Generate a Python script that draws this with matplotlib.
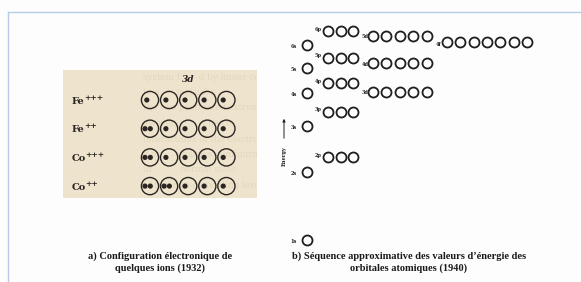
import matplotlib
matplotlib.use("Agg")
import matplotlib.pyplot as plt
from matplotlib.patches import Circle, Rectangle, FancyArrowPatch

# ---------------- data ----------------
# panel a) 3d occupancy of some ions (1932)
ion_symbols = ["Fe", "Fe", "Co", "Co"]
ion_charges = ["+++", "++", "+++", "++"]
occupancy = [
    [1, 1, 1, 1, 1],
    [2, 1, 1, 1, 1],
    [2, 1, 1, 1, 1],
    [2, 2, 1, 1, 1],
]
shell_label = "3d"

# panel b) approximate orbital energy sequence (1940), energies in arbitrary units
orbitals = ["1s", "2s", "2p", "3s", "3p", "4s", "3d", "4p", "5s", "4d", "5p", "6s", "4f", "5d", "6p"]
energies = [42, 110, 125, 156, 170, 189, 190, 199, 214, 219, 224, 237, 240, 246, 251]

caption_a = ["a) Configuration électronique de", "quelques ions (1932)"]
caption_b = ["b) Séquence approximative des valeurs d\u2019énergie des", "orbitales atomiques (1940)"]

# faint show-through text of the scanned page
bleed_lines = ["to a      mutual s", "the two postulated extremes.  I",
               "owever,         t be co", "interactions of the electrons are",
               "d or      charges configuratio", "ut          normal state", "of two non-coinciding levels."]

# ---------------- figure ----------------
W, H = 581, 282
fig = plt.figure(figsize=(W / 100, H / 100), dpi=100)
fig.patch.set_facecolor("#fdfdfd")
ax = fig.add_axes([0, 0, 1, 1])
ax.set_xlim(0, W)
ax.set_ylim(H, 0)
ax.axis("off")

# frame lines
ax.plot([8, W], [12, 12], color="#b5cbe8", lw=1.0)
ax.plot([8, 8], [12, H], color="#b5cbe8", lw=1.0)

# ---- panel a ----
ink = "#2b2622"
bleed = "#e2d7be"
ax.add_patch(Rectangle((63, 70), 194, 128, facecolor="#eee4cd", edgecolor="none", zorder=1))
ax.text(143, 78, "system f", fontsize=6.3, family="DejaVu Serif", color=bleed,
        va="center", ha="left", zorder=1.5)
ax.text(199, 78, "d by linear combin", fontsize=6.3, family="DejaVu Serif", color=bleed,
        va="center", ha="left", zorder=1.5)
for i, line in enumerate(bleed_lines):
    ax.text(143, 92.5 + i * 15.5, line, fontsize=6.3, family="DejaVu Serif", color=bleed,
            va="center", ha="left", zorder=1.5)
ax.add_patch(Rectangle((257, 60), 60, 150, facecolor="#fdfdfd", edgecolor="none", zorder=1.6))

ax.text(188, 80, shell_label, fontsize=6.5, family="DejaVu Serif", style="italic",
        weight="bold", color=ink, ha="center", va="center", zorder=3)
row_y0, row_dy = 100, 28.7
col_x0, col_dx = 150, 19.1
r = 8.6
for i, (sym, ch, occ) in enumerate(zip(ion_symbols, ion_charges, occupancy)):
    y = row_y0 + i * row_dy
    ax.text(72, y + 1, sym, fontsize=7, family="DejaVu Serif", weight="bold",
            color=ink, ha="left", va="center", zorder=3)
    ax.text(72 + (12 if sym == "Fe" else 13), y - 2.5, ch, fontsize=5.5, family="DejaVu Serif",
            weight="bold", color=ink, ha="left", va="center", zorder=3)
    for j, n in enumerate(occ):
        cx = col_x0 + j * col_dx
        ax.add_patch(Circle((cx, y), r, facecolor="none", edgecolor=ink, lw=1.0, zorder=3))
        if n == 1:
            xs = [cx - 3.2]
        else:
            xs = [cx - 5.0, cx + 0.3]
        for dx in xs:
            ax.add_patch(Circle((dx, y), 2.6, facecolor=ink, edgecolor="none", zorder=4))

# ---- panel b ----
col_x = {"s": 307, "p": 328, "d": 373, "f": 447}
spacing = {"s": 0, "p": 12.6, "d": 13.4, "f": 13.3}
nbox = {"s": 1, "p": 3, "d": 5, "f": 7}
label_dx = {"s": -13, "p": -9.5, "d": -8, "f": -8.5}
label_dy = {"s": 1.5, "p": -2.0, "d": 1.0, "f": 2.5}
base = 282
for name, e in zip(orbitals, energies):
    l = name[1]
    y = base - e
    xs = [col_x[l] + k * spacing[l] for k in range(nbox[l])]
    ax.plot(xs, [y] * len(xs), linestyle="none", marker="o", markersize=7.2,
            markerfacecolor="none", markeredgecolor="#1e1e1e", markeredgewidth=1.3, zorder=3)
    ax.text(xs[0] + label_dx[l], y + label_dy[l], name, fontsize=3.6, family="DejaVu Serif",
            weight="bold", color="#222222", ha="center", va="center", zorder=3)

# energy arrow
ax.add_patch(FancyArrowPatch((284, 141), (284, 116), arrowstyle="-|>", mutation_scale=4,
                             lw=0.7, color="#222222", zorder=3))
ax.text(284, 156, "Energy", rotation=90, fontsize=3.6, family="DejaVu Serif", weight="bold",
        color="#222222", ha="center", va="center")

# captions
for cx, cap in ((160, caption_a), (409, caption_b)):
    for k, line in enumerate(cap):
        ax.text(cx, 256 + k * 12, line, fontsize=7.5, family="Liberation Serif", weight="bold",
                color="#1a1a1a", ha="center", va="center")

fig.savefig("out.png", dpi=100, facecolor=fig.get_facecolor())
